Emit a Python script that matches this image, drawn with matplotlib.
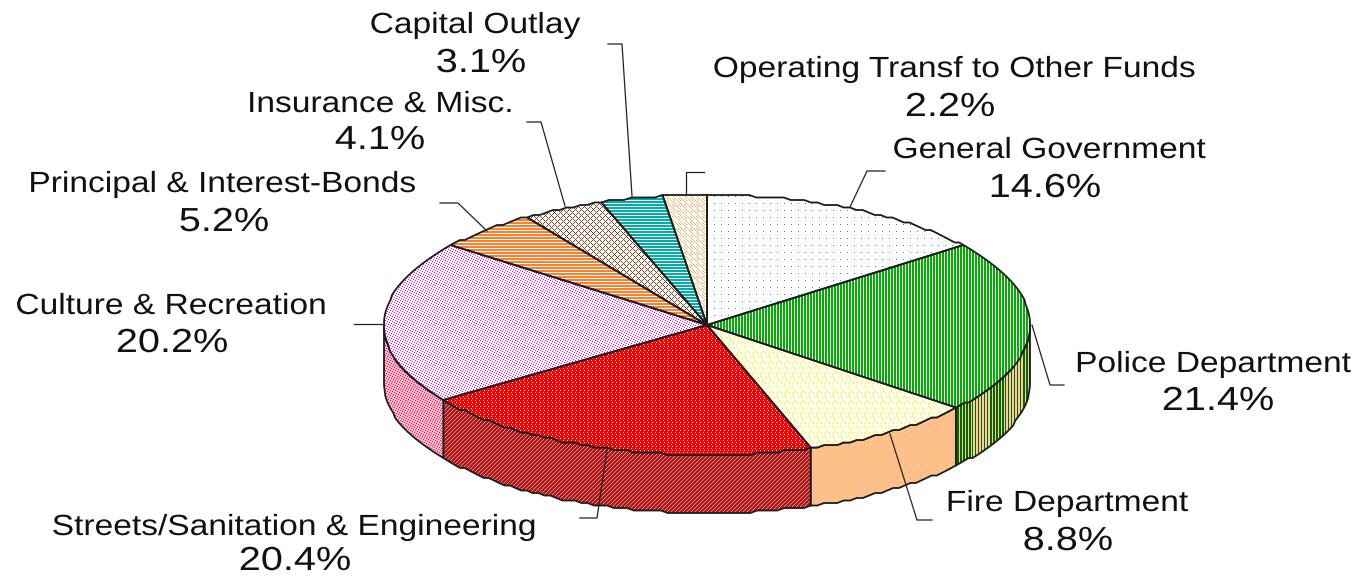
#!/usr/bin/env python3

import numpy as np
from matplotlib import patheffects
from matplotlib import pyplot as plt
from matplotlib.colors import to_rgb
from matplotlib.patches import Polygon
from matplotlib.transforms import Affine2D

out_filename = "out.png"

categories = [
    "General Government",
    "Police Department",
    "Fire Department",
    "Streets/Sanitation & Engineering",
    "Culture & Recreation",
    "Principal & Interest-Bonds",
    "Insurance & Misc.",
    "Capital Outlay",
    "Operating Transf to Other Funds",
]
shares = [14.6, 21.4, 8.8, 20.4, 20.2, 5.2, 4.1, 3.1, 2.2]

WIDTH, HEIGHT = 1357, 577
CX, CY, RX, RY, DEPTH = 707, 325, 323, 130, 58

# label centre x, name baseline y, value x, value baseline y, same order as categories
label_pos = [
    (1049, 158, 1045, 197),
    (1213, 372, 1218, 410),
    (1067, 511, 1068, 550),
    (294, 535, 295, 570),
    (171, 314, 172, 352),
    (222, 192, 224, 231),
    (380, 112, 380, 149),
    (475, 33, 481, 72),
    (954, 77, 950, 116),
]
leaders = [
    [(885, 171), (867, 171), (850, 207)],
    [(1064, 385), (1050, 385), (1032, 325)],
    [(932, 520), (917, 520), (890, 434)],
    [(580, 518), (597, 518), (607, 450)],
    [(354, 324), (384, 324)],
    [(440, 203), (458, 203), (487, 231)],
    [(527, 122), (541, 122), (565, 206)],
    [(608, 44), (622, 44), (632, 196)],
    [(704, 172), (686, 172), (686, 195)],
]

# (foreground, background, tile), # marks the foreground pixels
dots = ["#......", ".......", ".......", ".......", ".......", ".......", "......."]
v_stripes = ["##."]
band_stripes = ["##.##.##.##.##.#..#..#..#..#..#.."]
h_stripes = ["#", "#", "."]
triangles = [
    "...#....",
    "...#....",
    ".#...#..",
    ".#...#..",
    "........",
    "#.......",
    "#.......",
    "..#...#.",
    "..#...#.",
    "........",
]
red_dots = ["###.", "####", ".###", "####"]
white_dots = ["##.#", "#.##", ".###", "###."]
fine_dots = ["#....", "..#..", "....#", ".#...", "...#."]
lattice = ["#...#.", ".#.#..", "..#...", ".#.#..", "#...#.", ".....#"]
dashes = ["#..#..", ".#..#.", "..#..#", "#.....", ".#....", "..#..."]

top_styles = [
    ("#2a7fff", "#ffffff", dots),
    ("#00b000", "#ffffff", v_stripes),
    ("#ffff00", "#ffffff", triangles),
    ("#ff0000", "#ffffff", red_dots),
    ("#ff00ff", "#ffffff", fine_dots),
    ("#ff7f2a", "#ffffff", h_stripes),
    ("#90401c", "#ffffff", lattice),
    ("#00b0a8", "#ffffff", h_stripes),
    ("#ffb060", "#ffffff", dashes),
]
side_styles = {
    1: ("#006a00", "#ffc8a0", band_stripes),
    2: ("#ffc800", "#ffbfa0", triangles),
    3: ("#b01818", "#e89090", white_dots),
    4: ("#c020b0", "#ffb4b4", fine_dots),
}


class StretchX(patheffects.AbstractPathEffect):
    # the original labels are wider than any installed font at the same height
    def __init__(self, cx, factor):
        super().__init__()
        self.stretch = Affine2D().translate(-cx, 0).scale(factor, 1).translate(cx, 0)

    def draw_path(self, renderer, gc, tpath, affine, rgbFace=None):
        renderer.draw_path(gc, tpath, affine + self.stretch, rgbFace)


def tile_image(style):
    fg, bg, tile = style
    mask = np.array([[c == "#" for c in row] for row in tile])
    reps = (HEIGHT // mask.shape[0] + 1, WIDTH // mask.shape[1] + 1)
    mask = np.tile(mask, reps)[:HEIGHT, :WIDTH]
    img = np.empty((HEIGHT, WIDTH, 3))
    img[mask] = to_rgb(fg)
    img[~mask] = to_rgb(bg)
    return img


def rim(a0, a1, dy=0):
    # outer edge between two clockwise angles (deg from 12 o'clock), stepped like the original
    n = max(int(abs(a1 - a0) / 1.2), 2)
    t = np.radians(np.linspace(a0, a1, n))
    x = CX + RX * np.sin(t)
    y = CY - RY * np.cos(t)
    y = np.round(y / 2.5) * 2.5 + dy
    return np.column_stack([x, y])


def fill(ax, poly, style, zorder):
    im = ax.imshow(
        tile_image(style),
        extent=(0, WIDTH, HEIGHT, 0),
        interpolation="nearest",
        zorder=zorder,
    )
    patch = Polygon(poly, closed=True, transform=ax.transData)
    im.set_clip_path(patch)
    ax.add_patch(
        Polygon(poly, closed=True, fill=False, edgecolor="#1c1c1c", linewidth=1.3, zorder=zorder + 0.1)
    )


def main():
    plt.rcParams["font.family"] = ["Liberation Sans", "DejaVu Sans"]
    fig = plt.figure(figsize=(WIDTH / 100, HEIGHT / 100), dpi=100)
    ax = fig.add_axes([0, 0, 1, 1])

    edges = np.concatenate([[0], np.cumsum(shares)]) / np.sum(shares) * 360

    # rim first, back to front
    for i in [4, 3, 1, 2]:
        a0 = max(edges[i], 90)
        a1 = min(edges[i + 1], 270)
        front = rim(a0, a1)
        back = rim(a1, a0, DEPTH)
        fill(ax, np.vstack([front, back]), side_styles[i], 2 + i * 0.2)

    for i, style in enumerate(top_styles):
        poly = np.vstack([[(CX, CY)], rim(edges[i], edges[i + 1])])
        fill(ax, poly, style, 4)

    for path in leaders:
        xs, ys = zip(*path)
        ax.plot(xs, ys, color="#222222", linewidth=0.9, zorder=6)

    for name, value, (nx, ny, vx, vy) in zip(categories, shares, label_pos):
        t1 = ax.text(nx, ny, name, ha="center", va="baseline", fontsize=21, color="#111111")
        t1.set_path_effects([StretchX(nx, 1.15)])
        t2 = ax.text(vx, vy, f"{value:.1f}%", ha="center", va="baseline", fontsize=24, color="#111111")
        t2.set_path_effects([StretchX(vx, 1.19)])

    ax.set_xlim(0, WIDTH)
    ax.set_ylim(HEIGHT, 0)
    ax.set_aspect("auto")
    ax.axis("off")
    fig.savefig(out_filename, dpi=100)
    plt.close()


if __name__ == "__main__":
    main()
